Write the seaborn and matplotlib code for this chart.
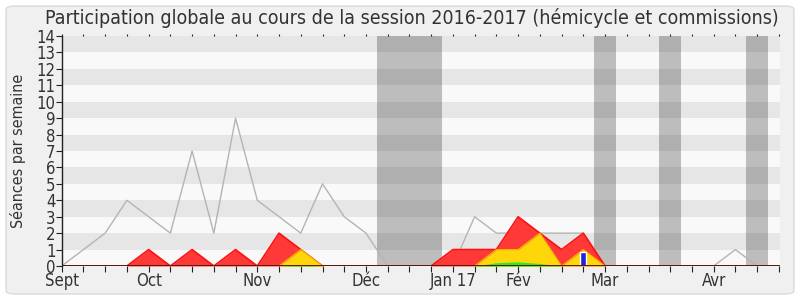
import numpy as np
import pandas as pd
import seaborn as sns
import matplotlib
matplotlib.use("Agg")
import matplotlib.pyplot as plt
from matplotlib.patches import FancyBboxPatch

# ---- data (weekly, week 0 = start of September 2016) ----
weeks = list(range(34))
total_line = [0, 1, 2, 4, 3, 2, 7, 2, 9, 4, 3, 2, 5, 3, 2, 0, 0, 0, 0, 3, 2, 2, 2, 2, 2, 0, 0, 0, 0, 0, 0, 1, 0, 0]
red_vals = [0, 0, 0, 0, 1, 0, 1, 0, 1, 0, 2, 1, 0, 0, 0, 0, 0, 0, 1, 1, 1, 3, 2, 1, 2, 0, 0, 0, 0, 0, 0, 0, 0, 0]
yellow_vals = [0, 0, 0, 0, 0, 0, 0, 0, 0, 0, 0, 1, 0, 0, 0, 0, 0, 0, 0, 0, 1, 1, 2, 0, 1, 0, 0, 0, 0, 0, 0, 0, 0, 0]
green_vals = [0, 0, 0, 0, 0, 0, 0, 0, 0, 0, 0, 0.05, 0, 0, 0, 0, 0, 0, 0, 0, 0.2, 0.25, 0.15, 0, 0, 0, 0, 0, 0, 0, 0, 0, 0, 0]
blue_week = [24]
blue_vals = [0.87]
vacation_start = [14.5, 24.5, 27.5, 31.5]
vacation_end = [17.5, 25.5, 28.5, 32.5]
month_pos = [0, 4, 9, 14, 18, 21, 25, 30]
month_labels = ["Sept", "Oct", "Nov", "Déc", "Jan 17", "Fév", "Mar", "Avr"]
title = "Participation globale au cours de la session 2016-2017 (hémicycle et commissions)"
ylabel = "Séances par semaine"

df = pd.DataFrame({"week": weeks, "total": total_line, "red": red_vals,
                   "yellow": yellow_vals, "green": green_vals})

sns.set_theme(style="white")
plt.rcParams["font.family"] = ["DejaVu Sans"]
plt.rcParams["font.stretch"] = "condensed"

fig = plt.figure(figsize=(8, 3), dpi=100)
fig.patch.set_facecolor("white")
frame = FancyBboxPatch((6 / 800, 6 / 300), 788 / 800, 288 / 300,
                       boxstyle="round,pad=0,rounding_size=0.012",
                       transform=fig.transFigure, facecolor="#f0f0f0",
                       edgecolor="#dadada", linewidth=1.0, zorder=-5)
fig.patches.append(frame)

ax = fig.add_axes([61.7 / 800, 34 / 300, (780 - 61.7) / 800, 230 / 300])
ax.set_zorder(1)
ax.set_facecolor("#f9f9f9")
ax.set_xlim(0, 33.05)
ax.set_ylim(0, 14)

# horizontal stripes
for y0 in range(1, 14, 2):
    ax.axhspan(y0, y0 + 1, color="#e6e6e6", lw=0, zorder=0.5)
# vacation bands
for s, e in zip(vacation_start, vacation_end):
    ax.axvspan(s, e, color="black", alpha=0.24, lw=0, zorder=1)

# median line
sns.lineplot(data=df, x="week", y="total", ax=ax, color="#b4b4b4", lw=1.0, zorder=2)

# stacked areas
ax.fill_between(df["week"], 0, df["red"], color="#ff3838", lw=0, zorder=3)
sns.lineplot(data=df, x="week", y="red", ax=ax, color="#ff1010", lw=1.2, zorder=3.1)
ax.fill_between(df["week"], 0, df["yellow"], color="#ffd60a", lw=0, zorder=4)
sns.lineplot(data=df, x="week", y="yellow", ax=ax, color="#f2b800", lw=0.8, zorder=4.1)
ax.fill_between(df["week"], 0, df["green"], color="#22ee22", lw=0, zorder=5)
ax.bar(blue_week, blue_vals, width=0.26, color="#2222dd", zorder=6)
ax.axhline(0, color="#5a1808", lw=1.4, zorder=7)

# axes styling
for side in ["top", "right"]:
    ax.spines[side].set_visible(False)
ax.spines["left"].set_color("#222222")
ax.spines["left"].set_linewidth(1.0)
ax.spines["bottom"].set_visible(False)

ax.set_yticks(range(0, 15))
ax.set_yticklabels([str(i) for i in range(15)])
ax.set_xticks(month_pos)
ax.set_xticklabels(month_labels)
ax.set_xticks(weeks, minor=True)
ax.tick_params(axis="y", direction="out", length=4, width=0.8, color="#222222",
               labelsize=12, pad=0.5, labelcolor="#333333", left=True)
ax.tick_params(axis="x", which="both", direction="out", length=4, width=0.8,
               color="#222222", labelsize=12, pad=0, labelcolor="#333333",
               bottom=True, top=True)
ax.tick_params(axis="x", which="both", top=True, labeltop=False)
for t in ax.xaxis.get_minor_ticks() + ax.xaxis.get_major_ticks():
    t.tick2line.set_markersize(1.5)

ax.set_xlabel("")
ax.set_ylabel("")
fig.text(18 / 800, 1 - 151 / 300, ylabel, rotation=90, ha="center", va="center",
         fontsize=11.5, color="#333333")
fig.text(412 / 800, 1 - 18 / 300, title, ha="center", va="center",
         fontsize=14, color="#333333")

fig.savefig("out.png", dpi=100, facecolor=fig.get_facecolor())
